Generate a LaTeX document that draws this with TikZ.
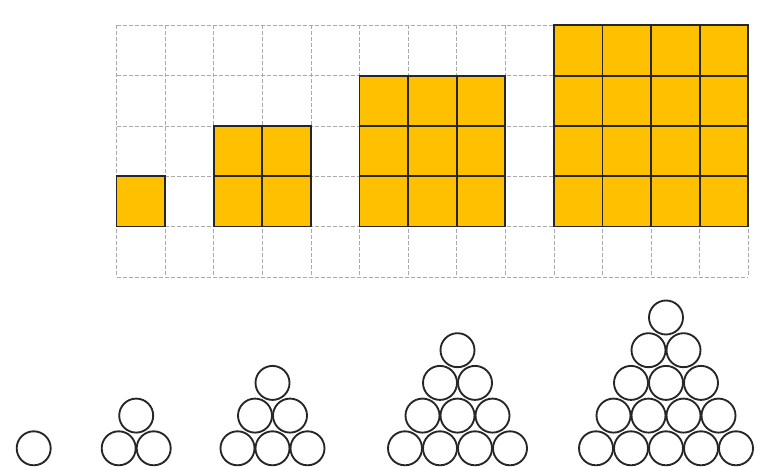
\documentclass[tikz,border=0pt]{standalone}
\usepackage{tikz}
\definecolor{tilegold}{HTML}{FFC000}
\definecolor{gridgray}{HTML}{AAAAAA}

\begin{document}
\begin{tikzpicture}[x=0.75pt, y=-0.75pt,
    gridline/.style={draw=gridgray, dash pattern=on 3pt off 1.5pt, line width=0.5pt},
    tile/.style={fill=tilegold, draw=black!85, line width=1.4pt},
    ball/.style={circle, draw=black!85, line width=1.4pt, minimum size=25.5pt, inner sep=0pt}
]
\useasboundingbox (0,0) rectangle (763,467);
% dashed grid and the square numbers
\begin{scope}[shift={(116.5,25.3)}, x=36.45pt, y=-37.73pt]
  \foreach \i in {0,...,13} \draw[gridline] (\i,0) -- (\i,5);
  \foreach \j in {0,...,5} \draw[gridline] (0,\j) -- (13,\j);
  \foreach \n/\c in {1/0, 2/2, 3/5, 4/9} {
    \foreach \a in {1,...,\n} \foreach \b in {1,...,\n}
      \draw[tile] (\c+\a-1, 4-\b) rectangle ++(1,1);
  }
\end{scope}
% triangular numbers
\foreach \n/\m in {1/33.7, 2/136.2, 3/272.5, 4/457.5, 5/666} {
  \foreach \r in {1,...,\n} {
    \pgfmathtruncatemacro\k{\n-\r+1}
    \foreach \s in {1,...,\k}
      \node[ball] (b\n-\r-\s) at ({\m+(\s-1)*35-(\k-1)*17.5}, {448.3-(\r-1)*32.7}) {};
  }
}
\end{tikzpicture}
\end{document}
